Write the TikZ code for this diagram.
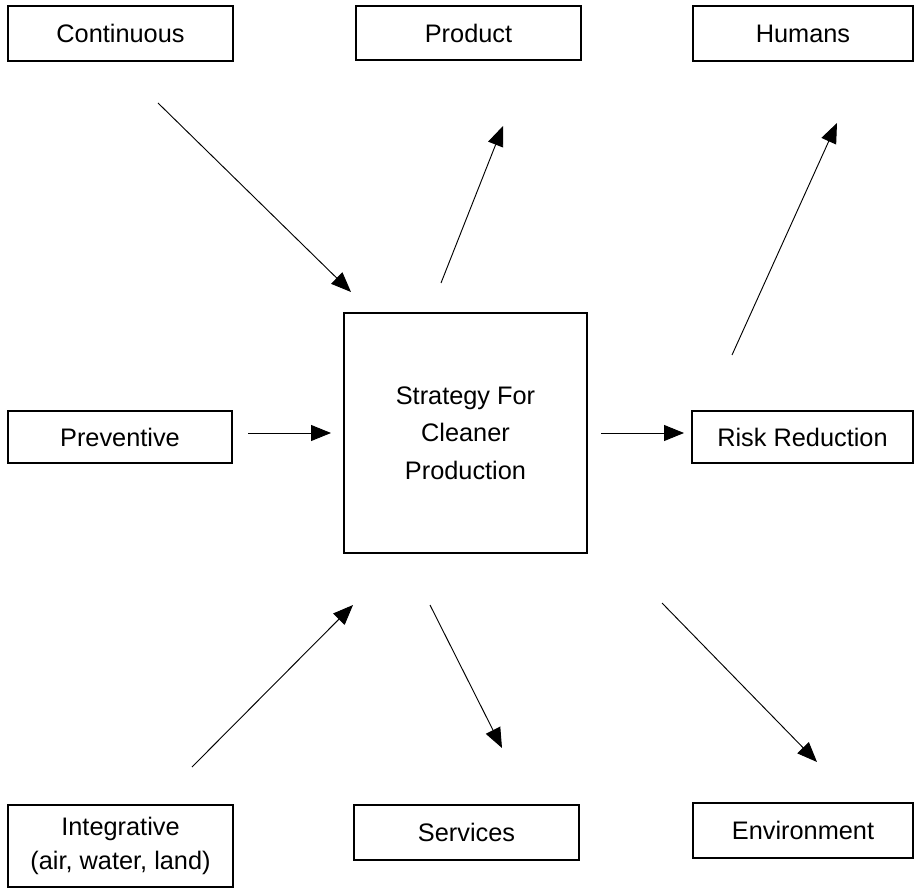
\documentclass[tikz,border=0pt]{standalone}
\usepackage{fontspec}
\setmainfont{Liberation Sans}
\usetikzlibrary{arrows.meta}
\begin{document}
\begin{tikzpicture}[x=0.75pt,y=-0.75pt,
  box/.style={draw=black, line width=1.6pt, inner sep=0pt, align=center,
    font=\fontsize{19}{25}\selectfont},
  conn/.style={line width=0.7pt, -{Triangle[length=15pt,width=12pt]}}]
\useasboundingbox (0,0) rectangle (914,891);
% boxes
\node[box, minimum width=225*0.75pt, minimum height=55*0.75pt] (cont) at (120.5,33.5) {Continuous};
\node[box, minimum width=225*0.75pt, minimum height=54*0.75pt] (prod) at (468.5,33) {Product};
\node[box, minimum width=220*0.75pt, minimum height=55*0.75pt] (hum) at (803,33.5) {Humans};
\node[box, minimum width=224*0.75pt, minimum height=52*0.75pt] (prev) at (120,437) {Preventive};
\node[box, minimum width=221*0.75pt, minimum height=52*0.75pt] (risk) at (802.5,437) {Risk Reduction};
\node[box, minimum width=225*0.75pt, minimum height=82*0.75pt] (integ) at (120.5,846) {Integrative\\(air, water, land)};
\node[box, minimum width=225*0.75pt, minimum height=55*0.75pt] (serv) at (466.5,832.5) {Services};
\node[box, minimum width=220*0.75pt, minimum height=55*0.75pt] (env) at (803,830.5) {Environment};
\node[box, minimum width=243*0.75pt, minimum height=240*0.75pt,
  font=\fontsize{19}{28}\selectfont] (strat) at (465.5,433) {Strategy For\\Cleaner\\Production};
% arrow end points
\coordinate (a1s) at (158,103); \coordinate (a1e) at (351,292);
\coordinate (a2s) at (441,283); \coordinate (a2e) at (503,126);
\coordinate (a3s) at (732,355); \coordinate (a3e) at (837,123);
\coordinate (a4s) at (248,433); \coordinate (a4e) at (331,433);
\coordinate (a5s) at (601,433); \coordinate (a5e) at (684,433);
\coordinate (a6s) at (192,767); \coordinate (a6e) at (353,605);
\coordinate (a7s) at (430,605); \coordinate (a7e) at (502,748);
\coordinate (a8s) at (662,603); \coordinate (a8e) at (817,762);
\draw[conn] (a1s) -- (a1e);
\draw[conn] (a2s) -- (a2e);
\draw[conn] (a3s) -- (a3e);
\draw[conn] (a4s) -- (a4e);
\draw[conn] (a5s) -- (a5e);
\draw[conn] (a6s) -- (a6e);
\draw[conn] (a7s) -- (a7e);
\draw[conn] (a8s) -- (a8e);
\end{tikzpicture}
\end{document}
